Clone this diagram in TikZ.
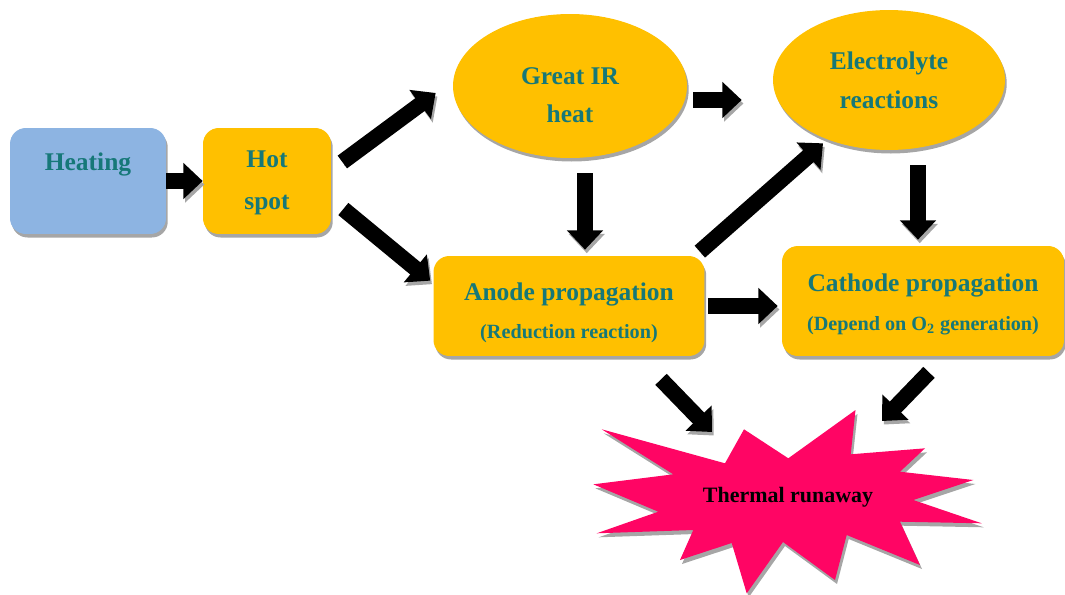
\documentclass[tikz,border=0pt]{standalone}
\usepackage{fontspec}
\setmainfont{Liberation Serif}
\usetikzlibrary{shapes.geometric,arrows.meta,shadows}
\definecolor{boxblue}{RGB}{141,180,226}
\definecolor{boxorange}{RGB}{255,192,0}
\definecolor{burstpink}{RGB}{255,5,100}
\definecolor{textteal}{RGB}{22,120,120}
\begin{document}
\begin{tikzpicture}[x=0.02cm,y=-0.02cm,
  boxshadow/.style={general shadow={shadow xshift=1pt,shadow yshift=-2pt,fill=black!35}},
  procbox/.style={rectangle,rounded corners=9pt,fill=boxorange,boxshadow,text=textteal,align=center,font=\bfseries\fontsize{14.5}{22}\selectfont},
  procoval/.style={ellipse,fill=boxorange,boxshadow,text=textteal,align=center,font=\bfseries\fontsize{14.5}{22}\selectfont},
  blk/.style={line width=9pt,-{Triangle[length=11pt,width=20pt]},preaction={draw=black!35,transform canvas={shift={(1pt,-2pt)}}}}]
\useasboundingbox (0,0) rectangle (1065,595);
\node[procbox,fill=boxblue,minimum width=3.12cm,minimum height=2.12cm] (heat) at (88,181) {Heating\\\mbox{}};
\node[procbox,font=\bfseries\fontsize{14.5}{24}\selectfont,minimum width=2.56cm,minimum height=2.12cm] (hot) at (267,181) {\rule{0pt}{12pt}Hot\\spot};
\node[procoval,minimum width=4.68cm,minimum height=2.88cm] (ir) at (570,86) {\rule{0pt}{20pt}Great IR\\heat};
\node[procoval,minimum width=4.64cm,minimum height=2.8cm] (el) at (889,80) {Electrolyte\\reactions};
\node[procbox,minimum width=5.42cm,minimum height=2cm] (anode) at (569,306) {\rule{0pt}{18pt}Anode propagation\\{\fontsize{11.5}{22}\selectfont(Reduction reaction)}};
\node[procbox,minimum width=5.64cm,minimum height=2.2cm] (cath) at (923,301) {\rule{0pt}{14pt}Cathode propagation\\{\fontsize{11.5}{22}\selectfont(Depend on O\textsubscript{2} generation)}};
\fill[black!35,shift={(2,4)}] (601.7,429.3) -- (725,463.3) -- (744,429.3) -- (788.3,458.3) -- (855.5,410) -- (850.7,454.3) -- (925,448.3) -- (900,471.7) -- (973.3,480) -- (913.3,500) -- (981.7,523.3) -- (900,521.7) -- (920,565) -- (846.7,535) -- (835,580) -- (783,542) -- (746.7,593.3) -- (731.7,543) -- (680,560) -- (693.3,530) -- (596.7,533.3) -- (658.3,511.7) -- (593.3,484.3) -- (673.3,474.3) -- cycle;
\fill[burstpink] (601.7,429.3) -- (725,463.3) -- (744,429.3) -- (788.3,458.3) -- (855.5,410) -- (850.7,454.3) -- (925,448.3) -- (900,471.7) -- (973.3,480) -- (913.3,500) -- (981.7,523.3) -- (900,521.7) -- (920,565) -- (846.7,535) -- (835,580) -- (783,542) -- (746.7,593.3) -- (731.7,543) -- (680,560) -- (693.3,530) -- (596.7,533.3) -- (658.3,511.7) -- (593.3,484.3) -- (673.3,474.3) -- cycle;
\node[font=\bfseries\fontsize{12.5}{15}\selectfont] (tr) at (788,497) {Thermal runaway};
\draw[blk] (heat.east) -- (hot.west);
\draw[blk] ([shift={(11,-19)}]hot.east) -- ([shift={(-17,7)}]ir.west);
\draw[blk] ([shift={(12,28)}]hot.east) -- ([shift={(-3,25)}]anode.north west);
\draw[blk] ([shift={(15,15)}]ir.south) -- ([shift={(16,-6)}]anode.north);
\draw[blk] ([shift={(6,14)}]ir.east) -- ([shift={(-31,20)}]el.west);
\draw[blk] ([shift={(-5,-4)}]anode.north east) -- ([shift={(-66,-7)}]el.south);
\draw[blk] ([shift={(29,15)}]el.south) -- ([shift={(-5,-6)}]cath.north);
\draw[blk] ([shift={(3,0)}]anode.east) -- ([shift={(-4,5)}]cath.west);
\draw[blk] ([shift={(92,23)}]anode.south) -- ([shift={(-76,-65)}]tr.center);
\draw[blk] ([shift={(6,16)}]cath.south) -- ([shift={(94,-76)}]tr.center);
\end{tikzpicture}
\end{document}
